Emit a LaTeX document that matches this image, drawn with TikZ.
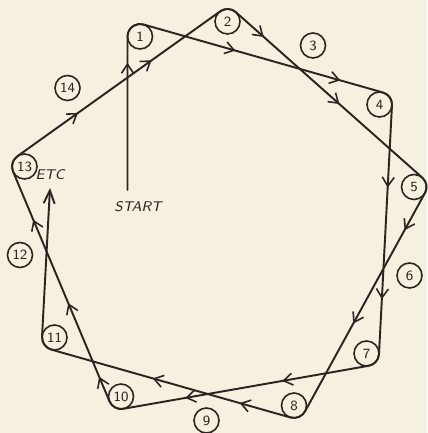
\documentclass[tikz,border=0pt]{standalone}
\usepackage{tikz}
\usetikzlibrary{arrows.meta,calc,decorations.markings}
\definecolor{Papel}{HTML}{F6F0E0}
\definecolor{Tinta}{HTML}{2B2521}

\begin{document}
\begin{tikzpicture}[
  >=Latex,
  every node/.style={font=\sffamily,text=Tinta},
  num/.style={circle,draw=Tinta,line width=0.9pt,minimum size=5mm,
    inner sep=0pt,outer sep=0pt,font=\sffamily\footnotesize},
  rotulo/.style={font=\sffamily\slshape\footnotesize},
  trazo/.style={line width=1.1pt,draw=Tinta,line cap=round,line join=round},
  flecha/.style={postaction={decorate,decoration={markings,
    mark=at position #1 with {\arrow{Straight Barb[length=1.8mm,width=2.4mm,line width=0.9pt]}}}}}
]
  \fill[Papel] (0,0) rectangle (8.54,8.66);
  \useasboundingbox (0,0) rectangle (8.54,8.66);

  % Catorce estaciones repartidas sobre una circunferencia.
  \node[num] (n1) at (2.80,7.93) {1};
  \node[num] (n2) at (4.55,8.23) {2};
  \node[num] (n3) at (6.26,7.75) {3};
  \node[num] (n4) at (7.59,6.57) {4};
  \node[num] (n5) at (8.28,4.92) {5};
  \node[num] (n6) at (8.19,3.15) {6};
  \node[num] (n7) at (7.33,1.59) {7};
  \node[num] (n8) at (5.88,0.55) {8};
  \node[num] (n9) at (4.13,0.25) {9};
  \node[num] (n10) at (2.42,0.73) {10};
  \node[num] (n11) at (1.09,1.91) {11};
  \node[num] (n12) at (0.40,3.56) {12};
  \node[num] (n13) at (0.49,5.33) {13};
  \node[num] (n14) at (1.35,6.90) {14};

  % Punto de partida y final abierto.
  \coordinate (inicio) at (2.55,4.86);
  \coordinate (etc) at (1.00,4.90);
  \node[rotulo] (lstart) at (2.76,4.52) {START};
  \node[rotulo,above=1pt] (letc) at (etc) {ETC};

  % Recorrido: salta de tres en tres rodeando cada circulo por fuera.
  \draw[trazo,flecha=.72] (inicio) -- (n1.180)
    arc[start angle=180,end angle=74.13,radius=2.5mm];
  \draw[trazo,flecha=.36,flecha=.77] (n1.74.13) -- (n4.74.13)
    arc[start angle=74.13,end angle=-3.01,radius=2.5mm];
  \draw[trazo,flecha=.31,flecha=.73] (n4.-3.01) -- (n7.-3.01)
    arc[start angle=-3.01,end angle=-80.16,radius=2.5mm];
  \draw[trazo,flecha=.33,flecha=.70] (n7.-80.16) -- (n10.-80.16)
    arc[start angle=-80.16,end angle=-157.30,radius=2.5mm];
  \draw[trazo,flecha=.10,flecha=.40,flecha=.74] (n10.-157.30) -- (n13.-157.30)
    arc[start angle=-157.30,end angle=-234.44,radius=2.5mm];
  \draw[trazo,flecha=.28,flecha=.62] (n13.125.56) -- (n2.125.56)
    arc[start angle=125.56,end angle=48.42,radius=2.5mm];
  \draw[trazo,flecha=.14,flecha=.52] (n2.48.42) -- (n5.48.42)
    arc[start angle=48.42,end angle=-28.73,radius=2.5mm];
  \draw[trazo,flecha=.16,flecha=.56] (n5.-28.73) -- (n8.-28.73)
    arc[start angle=-28.73,end angle=-105.87,radius=2.5mm];
  \draw[trazo,flecha=.20,flecha=.54] (n8.-105.87) -- (n11.-105.87)
    arc[start angle=-105.87,end angle=-183.01,radius=2.5mm];
  \draw[trazo,-{Straight Barb[length=2.6mm,width=2.2mm]}] (n11.176.99) -- (etc);
\end{tikzpicture}
\end{document}
